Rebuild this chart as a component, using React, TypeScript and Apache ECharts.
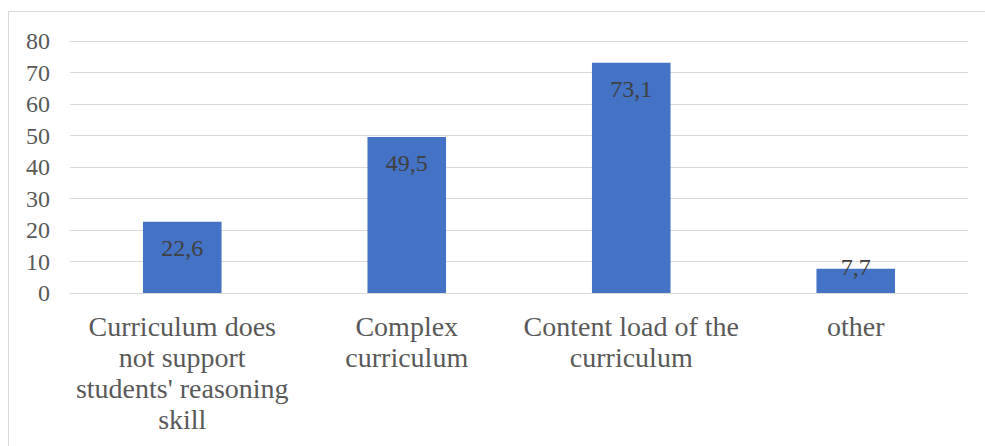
import React, { useEffect, useRef } from "react";
import * as echarts from "echarts";

const categories = [
  "Curriculum does\nnot support\nstudents' reasoning\nskill",
  "Complex\ncurriculum",
  "Content load of the\ncurriculum",
  "other",
];
const values = [22.6, 49.5, 73.1, 7.7];
const yMin = 0;
const yMax = 80;
const yInterval = 10;

export default function App() {
  const ref = useRef<HTMLDivElement>(null);
  useEffect(() => {
    if (!ref.current) return;
    const chart = echarts.init(ref.current, null, { renderer: "svg" });
    const font = "Liberation Serif";
    chart.setOption({
      animation: false,
      backgroundColor: "#ffffff",
      textStyle: { fontFamily: font },
      graphic: [
        {
          type: "polyline",
          shape: { points: [[8.5, 500], [8.5, 11.5], [1000, 11.5]] },
          style: { stroke: "#d9d9d9", lineWidth: 1, fill: "none" },
          silent: true,
        },
      ],
      grid: { left: 70, right: 17, top: 41, bottom: 153, containLabel: false },
      xAxis: {
        type: "category",
        data: categories,
        axisLine: { show: true, lineStyle: { color: "#d9d9d9", width: 1 } },
        axisTick: { show: false },
        axisLabel: {
          interval: 0,
          margin: 18,
          color: "#595959",
          fontFamily: font,
          fontSize: 28,
          lineHeight: 31,
          align: "center",
        },
      },
      yAxis: {
        type: "value",
        min: yMin,
        max: yMax,
        interval: yInterval,
        axisLine: { show: false },
        axisTick: { show: false },
        splitLine: { lineStyle: { color: "#d9d9d9", width: 1 } },
        axisLabel: {
          margin: 20,
          color: "#595959",
          fontFamily: font,
          fontSize: 24,
        },
      },
      series: [
        {
          type: "bar",
          data: values.map((v) =>
            v < 15
              ? { value: v, label: { position: "insideTop", distance: -14 } }
              : v
          ),
          barWidth: "35%",
          itemStyle: { color: "#4472c4" },
          label: {
            show: true,
            position: "insideTop",
            distance: 14,
            color: "#404040",
            fontFamily: font,
            fontSize: 24,
            lineHeight: 24,
            formatter: (p: any) => String(p.value).replace(".", ","),
          },
        },
      ],
    });
    return () => chart.dispose();
  }, []);
  return (
    <div
      ref={ref}
      style={{ position: "fixed", left: 0, top: 0, width: 985, height: 446 }}
    />
  );
}
